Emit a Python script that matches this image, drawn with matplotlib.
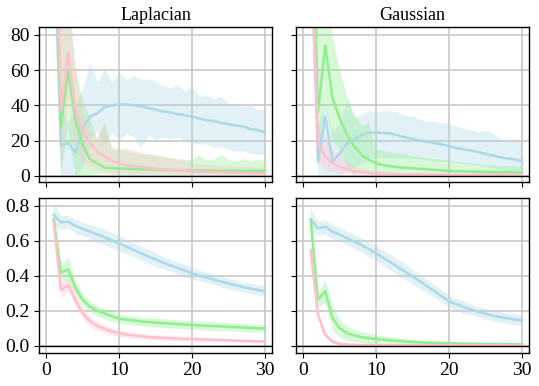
import numpy as np
import matplotlib
matplotlib.use('Agg')
import matplotlib.pyplot as plt

plt.rcParams['font.family'] = ['Liberation Serif', 'DejaVu Serif']
plt.rcParams['font.size'] = 14

steps = list(range(1, 31))
titles = ['Laplacian', 'Gaussian']
colors = ['lightblue', 'lightgreen', 'pink']

# top row: mean, lower and upper band
lap_top_blue = [150, 17, 18.5, 13, 27, 33.5, 35.5, 39, 40, 40.5, 40.5, 40, 39.5, 38.5, 37.5,
                36.5, 36, 35, 34.5, 33.5, 32.5, 31.5, 31, 30, 29.3, 28.5, 28, 26.5, 26, 24.6]
lap_top_blue_lo = [100, 0, 0, 0, 5, 21, 25, 18, 25, 20, 24, 22, 16, 23, 20.5,
                   22, 21, 22, 20, 18, 18, 18, 16, 17, 15, 14, 14, 13, 12, 12]
lap_top_blue_hi = [200, 40, 30, 40, 50, 63.8, 53, 61, 53, 58.5, 54.7, 57, 55, 55, 54,
                   50.8, 50, 51.5, 48, 51, 45, 46, 43.7, 45, 41, 41, 39, 40, 37.5, 37.5]

lap_top_green = [200, 28, 60, 31.6, 17.4, 9.3, 7, 4.5, 4.3, 4.2, 4, 3.8, 3.6, 3.5, 3.4,
                 3.3, 3.2, 3.1, 3, 2.9, 2.9, 2.9, 2.8, 2.8, 2.8, 2.8, 2.8, 2.8, 2.8, 2.8]
lap_top_green_lo = [150, 0, 27, 0, 0, 0, 1, 1, 0.5, 0.5, 0.5, 0.5, 0.5, 0.5, 0.5,
                    0.5, 0.5, 0.5, 0.5, 0.5, 0.5, 0.5, 0.5, 0.5, 0.5, 0.5, 0.5, 0.5, 0.5, 0.5]
lap_top_green_hi = [250, 150, 100, 60, 43, 33, 20, 30, 16.5, 15, 14, 13, 12.5, 12, 11,
                    10.5, 10, 9.5, 9, 9, 11.5, 9, 9, 11.5, 9, 8, 9.5, 8, 9, 8.5]

lap_top_pink = [220, 37, 70, 37, 25, 18.4, 13.6, 10.8, 8.3, 7, 6, 5.5, 5, 4.5, 4,
                3.7, 3.4, 3, 2.8, 2.5, 2.3, 2.2, 2, 1.9, 1.8, 1.7, 1.6, 1.5, 1.4, 1.3]
lap_top_pink_lo = [150, 0, 45, 15, 8, 5, 3, 2, 1.5, 1, 1, 1, 0.8, 0.8, 0.8,
                   0.6, 0.6, 0.6, 0.5, 0.5, 0.5, 0.5, 0.5, 0.5, 0.5, 0.5, 0.5, 0.5, 0.5, 0.5]
lap_top_pink_hi = [300, 150, 110, 65, 35, 25, 22, 29, 15, 14, 15.6, 14, 13, 12, 12,
                   11, 10, 9, 8, 7, 6.5, 6, 6, 5.5, 5.5, 5, 5, 5, 4.5, 4.5]

gau_top_blue = [150, 8, 33.5, 8, 12.7, 18.4, 21, 23, 24.5, 24.6, 24.3, 24, 22.8, 21.8, 20.8,
                20, 19.3, 18.5, 17.7, 16.8, 15.8, 15, 14.3, 13.5, 12.3, 11.5, 10.5, 9.8, 9.3, 8.3]
gau_top_blue_lo = [100, 0, 0, 0, 0, 3, 5, 7, 9, 10, 10, 10, 10, 10, 10,
                   9.5, 9, 8.5, 8, 8, 7.5, 7, 6.5, 6, 5.5, 4.5, 3.5, 3, 2.5, 2]
gau_top_blue_hi = [200, 30, 40, 25, 30, 43, 33, 35, 37, 36.5, 37, 37, 36, 34, 34,
                   32, 31, 31, 30, 29.5, 28, 27, 26, 25, 26, 24, 21, 19.5, 19.5, 19.5]

gau_top_green = [200, 36, 74, 44, 32.6, 23, 16.5, 11.7, 9, 7, 6, 5.3, 4.8, 4.5, 4.2,
                 3.9, 3.6, 3.3, 3, 2.8, 2.6, 2.5, 2.4, 2.3, 2.2, 2.1, 2, 2, 1.9, 1.9]
gau_top_green_lo = [150, 10, 40, 20, 15, 5, 0, 3, 2, 1.5, 1, 1, 1, 0.8, 0.8,
                    0.6, 0.6, 0.5, 0.5, 0.5, 0.5, 0.5, 0.5, 0.5, 0.5, 0.5, 0.5, 0.5, 0.5, 0.5]
gau_top_green_hi = [250, 150, 120, 80, 60, 45, 35, 28, 30, 15, 14, 13, 12.5, 12, 11,
                    10.5, 10, 9.5, 9, 8.5, 8, 7.5, 7, 6.5, 6, 6, 5.5, 5.5, 5, 5]

gau_top_pink = [150, 18, 11, 7, 5, 3.5, 2.5, 2, 1.5, 1.2, 1, 0.9, 0.8, 0.7, 0.7,
                0.6, 0.6, 0.6, 0.5, 0.5, 0.5, 0.5, 0.5, 0.5, 0.5, 0.5, 0.5, 0.5, 0.5, 0.5]
gau_top_pink_lo = [100, 8, 3, 2, 1, 0.5, 0.3, 0.2, 0.2, 0.2, 0.2, 0.2, 0.2, 0.2, 0.2,
                   0.2, 0.2, 0.2, 0.2, 0.2, 0.2, 0.2, 0.2, 0.2, 0.2, 0.2, 0.2, 0.2, 0.2, 0.2]
gau_top_pink_hi = [250, 30, 22, 15, 12, 8, 5, 4, 3, 2.5, 2, 1.8, 1.6, 1.5, 1.4,
                   1.3, 1.2, 1.2, 1.1, 1.1, 1, 1, 1, 1, 1, 1, 1, 1, 1, 1]

# bottom row: mean and half width of band
lap_bot_blue = [0.747, 0.705, 0.708, 0.684, 0.668, 0.652, 0.636, 0.62, 0.602, 0.585,
                0.566, 0.547, 0.528, 0.51, 0.493, 0.476, 0.46, 0.445, 0.43, 0.415,
                0.402, 0.39, 0.378, 0.366, 0.356, 0.346, 0.336, 0.327, 0.32, 0.313]
lap_bot_blue_sd = [0.07, 0.04, 0.035, 0.04, 0.04, 0.04, 0.045, 0.045, 0.045, 0.045,
                   0.04, 0.04, 0.04, 0.04, 0.04, 0.035, 0.035, 0.035, 0.035, 0.035,
                   0.03, 0.03, 0.03, 0.03, 0.03, 0.03, 0.03, 0.03, 0.03, 0.03]
lap_bot_green = [0.722, 0.418, 0.437, 0.33, 0.262, 0.224, 0.2, 0.185, 0.17, 0.155,
                 0.15, 0.145, 0.14, 0.136, 0.133, 0.13, 0.127, 0.124, 0.122, 0.12,
                 0.117, 0.115, 0.113, 0.111, 0.109, 0.107, 0.105, 0.103, 0.101, 0.099]
lap_bot_green_sd = [0.08, 0.04, 0.07, 0.04, 0.035, 0.03, 0.03, 0.03, 0.03, 0.025,
                    0.025, 0.025, 0.025, 0.025, 0.025, 0.025, 0.025, 0.025, 0.025, 0.025,
                    0.025, 0.025, 0.025, 0.025, 0.022, 0.022, 0.022, 0.022, 0.022, 0.022]
lap_bot_pink = [0.71, 0.32, 0.348, 0.262, 0.186, 0.139, 0.115, 0.097, 0.083, 0.072,
                0.065, 0.06, 0.055, 0.051, 0.048, 0.046, 0.044, 0.042, 0.041, 0.04,
                0.038, 0.037, 0.035, 0.034, 0.032, 0.031, 0.029, 0.028, 0.026, 0.025]
lap_bot_pink_sd = [0.03, 0.05, 0.035, 0.035, 0.03, 0.03, 0.025, 0.02, 0.02, 0.02,
                   0.018, 0.017, 0.015, 0.015, 0.015, 0.014, 0.013, 0.013, 0.012, 0.012,
                   0.011, 0.011, 0.01, 0.01, 0.01, 0.009, 0.009, 0.009, 0.008, 0.008]

gau_bot_blue = [0.722, 0.671, 0.68, 0.652, 0.635, 0.614, 0.595, 0.575, 0.552, 0.528,
                0.502, 0.476, 0.449, 0.422, 0.395, 0.368, 0.34, 0.312, 0.283, 0.255,
                0.237, 0.222, 0.208, 0.195, 0.183, 0.173, 0.165, 0.158, 0.151, 0.145]
gau_bot_blue_sd = [0.06, 0.04, 0.04, 0.04, 0.04, 0.04, 0.04, 0.04, 0.045, 0.045,
                   0.045, 0.045, 0.045, 0.045, 0.04, 0.04, 0.04, 0.035, 0.035, 0.035,
                   0.035, 0.035, 0.03, 0.03, 0.03, 0.03, 0.03, 0.03, 0.03, 0.03]
gau_bot_green = [0.72, 0.262, 0.314, 0.158, 0.1, 0.072, 0.06, 0.05, 0.043, 0.04,
                 0.035, 0.032, 0.028, 0.025, 0.022, 0.02, 0.018, 0.017, 0.016, 0.015,
                 0.014, 0.013, 0.013, 0.012, 0.012, 0.011, 0.011, 0.01, 0.01, 0.01]
gau_bot_green_sd = [0.08, 0.04, 0.065, 0.07, 0.05, 0.04, 0.035, 0.03, 0.03, 0.025,
                    0.022, 0.02, 0.02, 0.018, 0.017, 0.015, 0.014, 0.013, 0.012, 0.011,
                    0.01, 0.01, 0.009, 0.008, 0.008, 0.007, 0.007, 0.006, 0.006, 0.006]
gau_bot_pink = [0.548, 0.177, 0.063, 0.025, 0.012, 0.008, 0.006, 0.005, 0.005, 0.004,
                0.004, 0.004, 0.004, 0.004, 0.004, 0.004, 0.004, 0.004, 0.004, 0.004,
                0.004, 0.004, 0.004, 0.004, 0.004, 0.004, 0.004, 0.004, 0.004, 0.004]
gau_bot_pink_sd = [0.05, 0.025, 0.015, 0.01, 0.007, 0.005, 0.004, 0.003, 0.003, 0.003,
                   0.003, 0.003, 0.003, 0.003, 0.003, 0.003, 0.003, 0.003, 0.003, 0.003,
                   0.003, 0.003, 0.003, 0.003, 0.003, 0.003, 0.003, 0.003, 0.003, 0.003]

top_data = [
    [(lap_top_blue, lap_top_blue_lo, lap_top_blue_hi),
     (lap_top_green, lap_top_green_lo, lap_top_green_hi),
     (lap_top_pink, lap_top_pink_lo, lap_top_pink_hi)],
    [(gau_top_blue, gau_top_blue_lo, gau_top_blue_hi),
     (gau_top_green, gau_top_green_lo, gau_top_green_hi),
     (gau_top_pink, gau_top_pink_lo, gau_top_pink_hi)],
]
bot_data = [
    [(lap_bot_blue, lap_bot_blue_sd), (lap_bot_green, lap_bot_green_sd),
     (lap_bot_pink, lap_bot_pink_sd)],
    [(gau_bot_blue, gau_bot_blue_sd), (gau_bot_green, gau_bot_green_sd),
     (gau_bot_pink, gau_bot_pink_sd)],
]

fig = plt.figure(figsize=(5.39, 3.86), dpi=100)
axes = fig.subplots(2, 2, sharex=True, sharey='row')
fig.subplots_adjust(left=0.0724, right=0.982, top=0.930, bottom=0.0847,
                    wspace=0.102, hspace=0.105)

for col in range(2):
    ax = axes[0, col]
    for (m, lo, hi), c in zip(top_data[col], colors):
        ax.fill_between(steps, lo, hi, color=c, alpha=0.35, linewidth=0)
        ax.plot(steps, m, color=c, linewidth=1.8)
    ax.set_title(titles[col], fontsize=13, pad=5)

    ax = axes[1, col]
    for (m, sd), c in zip(bot_data[col], colors):
        m = np.array(m)
        sd = np.array(sd)
        ax.fill_between(steps, m - sd, m + sd, color=c, alpha=0.35, linewidth=0)
        ax.plot(steps, m, color=c, linewidth=1.8)

for ax in axes.flat:
    ax.axhline(0, color='black', linewidth=1)
    ax.grid(True, color='#c4c4c4', linewidth=1.1)
    ax.set_axisbelow(True)
    for s in ax.spines.values():
        s.set_linewidth(1.0)
    ax.tick_params(labelsize=14, pad=3)

axes[0, 0].set_ylim(-3.6, 84.5)
axes[0, 0].set_yticks([0, 20, 40, 60, 80])
axes[1, 0].set_ylim(-0.042, 0.842)
axes[1, 0].set_yticks([0.0, 0.2, 0.4, 0.6, 0.8])
axes[1, 0].set_xlim(-1, 31)
axes[1, 0].set_xticks([0, 10, 20, 30])

fig.savefig('out.png', dpi=100)
